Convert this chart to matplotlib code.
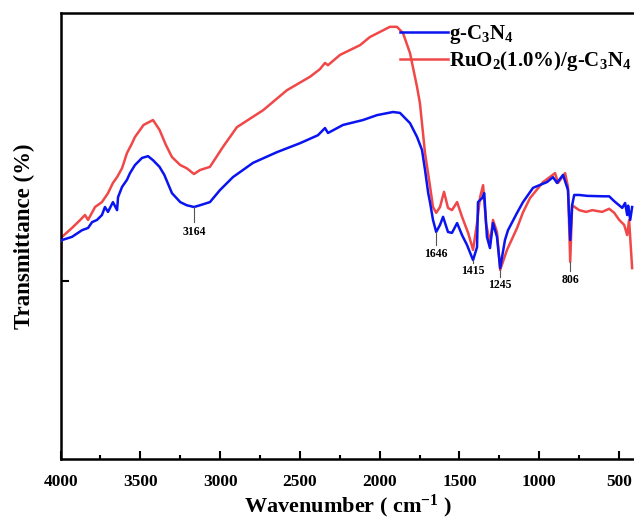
import matplotlib
matplotlib.use("Agg")
import matplotlib.pyplot as plt
from matplotlib.ticker import MultipleLocator

plt.rcParams['font.family'] = ['Liberation Serif', 'DejaVu Serif']
plt.rcParams['font.weight'] = 'bold'
plt.rcParams['mathtext.fontset'] = 'custom'
plt.rcParams['mathtext.rm'] = 'Liberation Serif:bold'
plt.rcParams['mathtext.it'] = 'Liberation Serif:bold'
plt.rcParams['mathtext.bf'] = 'Liberation Serif:bold'

# g-C3N4 spectrum (wavenumber, transmittance a.u.)
wn_g = [4000, 3991, 3929, 3866, 3828, 3803, 3772, 3741, 3722, 3703, 3672, 3646,
        3640, 3615, 3584, 3565, 3534, 3490, 3452, 3421, 3380, 3350, 3302, 3250,
        3210, 3164, 3126, 3064, 3001, 2920, 2794, 2644, 2500, 2387, 2343, 2324,
        2230, 2105, 2017, 1917, 1873, 1810, 1766, 1735, 1716, 1696, 1684, 1666,
        1646, 1622, 1603, 1572, 1547, 1515, 1484, 1453, 1415, 1390, 1384, 1358,
        1345, 1328, 1309, 1290, 1265, 1245, 1215, 1196, 1139, 1102, 1039, 951,
        914, 889, 851, 820, 806, 794, 781, 750, 700, 600, 562, 530, 480, 462,
        449, 443, 430, 418]
t_g = [48.7, 49.1, 49.8, 51.3, 51.8, 53.1, 53.6, 54.7, 56.5, 55.4, 57.6, 55.8,
       58.7, 61.0, 62.6, 64.1, 65.9, 67.5, 67.9, 67.0, 65.5, 63.7, 59.6, 57.6,
       56.9, 56.5, 56.9, 57.6, 60.3, 63.2, 66.4, 68.8, 70.8, 72.6, 74.2, 73.1,
       74.9, 76.0, 77.1, 77.8, 77.6, 75.3, 72.2, 69.3, 64.8, 59.6, 57.4, 53.6,
       50.9, 52.5, 54.3, 50.9, 50.7, 52.9, 50.2, 48.0, 44.6, 47.5, 57.6, 58.5,
       59.6, 49.8, 47.3, 52.9, 49.8, 42.8, 49.1, 51.3, 55.2, 57.6, 60.8, 62.1,
       63.2, 61.9, 63.7, 60.3, 49.1, 56.9, 59.2, 59.2, 59.0, 58.9, 58.9, 57.8,
       56.3, 57.4, 54.7, 56.8, 53.6, 56.5]

# RuO2(1.0%)/g-C3N4 spectrum
wn_r = [4000, 3995, 3991, 3929, 3891, 3847, 3828, 3784, 3741, 3703, 3672, 3646,
        3615, 3584, 3552, 3534, 3480, 3421, 3380, 3340, 3302, 3250, 3210, 3164,
        3126, 3064, 2982, 2895, 2731, 2581, 2437, 2375, 2343, 2324, 2249, 2123,
        2062, 1936, 1892, 1854, 1810, 1766, 1748, 1716, 1684, 1666, 1646, 1622,
        1597, 1572, 1547, 1515, 1484, 1446, 1415, 1390, 1371, 1352, 1334, 1309,
        1290, 1265, 1245, 1202, 1139, 1102, 1058, 976, 901, 882, 838, 820, 806,
        794, 750, 706, 668, 606, 562, 530, 499, 468, 449, 437, 418]
t_r = [39.7, 49.6, 49.8, 51.8, 53.1, 54.7, 53.6, 56.5, 57.6, 59.6, 61.9, 63.2,
       65.2, 68.6, 70.8, 72.2, 74.9, 76.0, 73.8, 70.4, 67.7, 65.9, 65.2, 63.9,
       64.8, 65.5, 70.0, 74.4, 78.2, 82.7, 85.7, 87.4, 88.8, 88.3, 90.6, 92.8,
       94.6, 96.9, 96.9, 95.5, 91.0, 83.4, 79.8, 68.6, 61.0, 56.5, 55.2, 56.5,
       59.9, 56.3, 55.8, 57.6, 54.3, 50.7, 46.9, 52.9, 58.7, 61.4, 52.9, 48.4,
       53.6, 50.9, 42.4, 46.9, 51.8, 55.3, 58.5, 62.1, 64.1, 61.9, 64.1, 61.0,
       44.2, 56.9, 55.8, 55.4, 55.8, 55.4, 56.1, 55.2, 53.6, 52.5, 50.2, 53.6,
       42.8]

peak_labels = ['3164', '1646', '1415', '1245', '806']
peak_wn = [3164, 1646, 1415, 1245, 806]
peak_line_top = [56.5, 50.9, 44.6, 42.4, 44.2]
peak_line_bot = [53.1, 48.0, 43.9, 40.8, 42.2]
peak_text_y = [50.9, 46.0, 42.2, 39.0, 40.1]

W, H = 634, 521
fig = plt.figure(figsize=(W / 100, H / 100), dpi=100)
ax = fig.add_axes([60.6 / W, (H - 459) / H, (635 - 60.6) / W, (459 - 13) / H])

ax.plot(wn_g, t_g, color='#0A14F0', lw=1.8, label=r'g-C$_3$N$_4$', zorder=3)
ax.plot(wn_r, t_r, color='#F04848', lw=1.8, label=r'RuO$_2$(1.0%)/g-C$_3$N$_4$', zorder=2)

for lab, x, y1, y2, ty in zip(peak_labels, peak_wn, peak_line_top, peak_line_bot, peak_text_y):
    ax.plot([x, x], [y1, y2], color='#555555', lw=0.8, zorder=4)
    ax.text(x, ty, lab, ha='center', va='center', fontsize=8.5, fontweight='bold')

ax.set_xlim(4000, 400)
ax.set_ylim(0, 100)
ax.xaxis.set_major_locator(MultipleLocator(500))
ax.xaxis.set_minor_locator(MultipleLocator(250))
ax.set_yticks([40])
ax.set_yticklabels([''])
ax.tick_params(axis='both', which='major', direction='in', length=6, width=1.5,
               labelsize=12.5)
ax.tick_params(axis='x', which='major', pad=11)
ax.tick_params(axis='x', which='minor', direction='in', length=3, width=1.5)
for lbl in ax.get_xticklabels():
    lbl.set_fontweight('bold')
for s in ax.spines.values():
    s.set_linewidth(1.8)

ax.set_xlabel(r'Wavenumber ( cm$^{-1}$ )', fontsize=16, fontweight='bold', labelpad=2)
ax.set_ylabel('Transmittance (%)', fontsize=16.5, fontweight='bold', labelpad=15)

leg = ax.legend(loc='upper left', bbox_to_anchor=(400 / W, 1 - 23 / H),
                bbox_transform=fig.transFigure, frameon=False, fontsize=15,
                handlelength=2.3, handletextpad=0.05, labelspacing=0.15,
                borderaxespad=0, borderpad=0)

fig.savefig('out.png', dpi=100)
